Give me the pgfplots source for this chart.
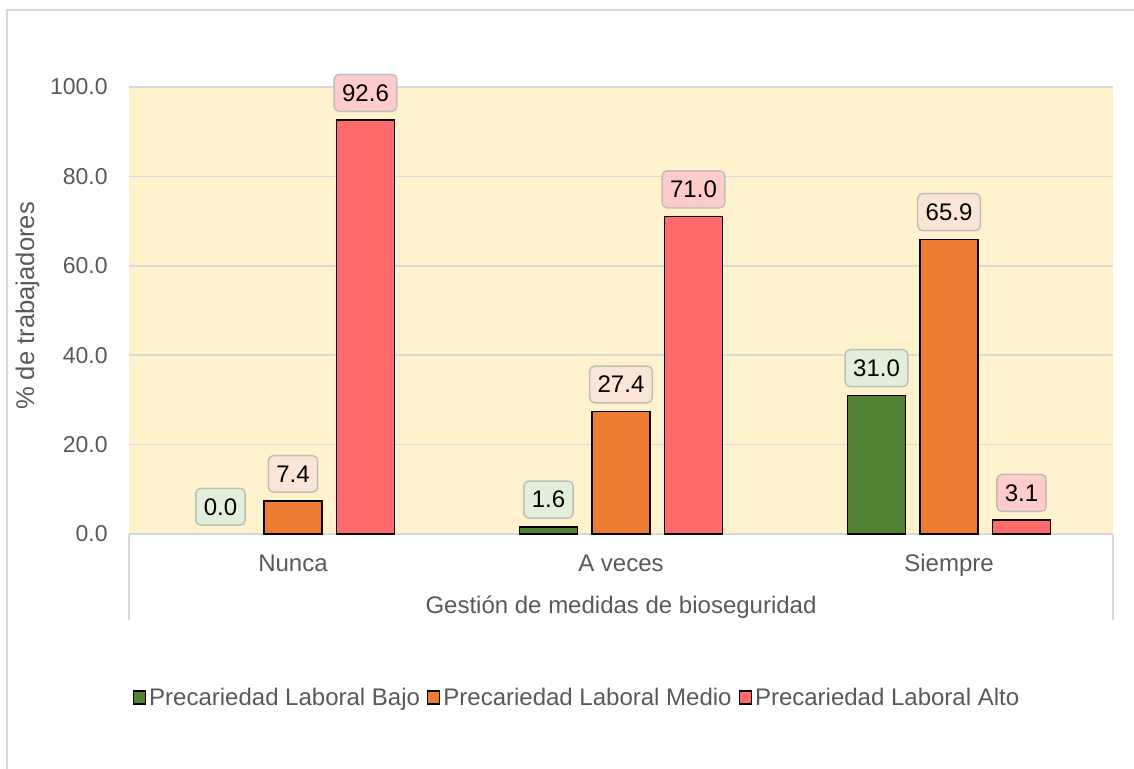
\documentclass[border=0pt]{standalone}
\usepackage{pgfplots}
\pgfplotsset{compat=1.18}
\usepackage{fontspec}
\setmainfont{Liberation Sans}
\definecolor{cGreen}{RGB}{84,130,53}
\definecolor{cOrange}{RGB}{237,125,49}
\definecolor{cRed}{RGB}{255,107,107}
\definecolor{lGreen}{RGB}{226,239,218}
\definecolor{lOrange}{RGB}{251,229,214}
\definecolor{lRed}{RGB}{255,204,204}
\definecolor{bgY}{RGB}{255,242,204}
\definecolor{gridc}{RGB}{217,217,217}
\definecolor{txt}{RGB}{89,89,89}
\definecolor{lblb}{RGB}{191,191,191}
\newcommand{\fs}{\fontsize{11.5}{13.8}\selectfont}
\newcommand{\fm}{\fontsize{12}{14.4}\selectfont}
\pgfplotsset{
  ybar legend/.style={legend image code/.code={\draw[##1,draw=black,line width=0.7pt] (0pt,-3pt) rectangle (6pt,3.5pt);}},
  lbl/.style={every node near coord/.append style={fill=#1, draw=lblb, rounded corners=2.5pt, text=black, font=\fm, inner xsep=4pt, inner ysep=5pt, yshift=4pt, line width=0.75pt}}
}
\begin{document}
\begin{tikzpicture}
\useasboundingbox (0,0) rectangle (567pt,384.5pt);
\begin{axis}[
  at={(64.5pt,117.5pt)}, anchor=south west,
  width=492pt, height=223.5pt, scale only axis,
  xmin=-0.5, xmax=2.5, ymin=0, ymax=100,
  ytick={0,20,40,60,80,100},
  xtick={0,1,2}, xticklabels={Nunca,A veces,Siempre},
  ymajorgrids, grid style={gridc, line width=0.75pt},
  axis line style={draw=none},
  major tick length=0,
  tick label style={text=txt},
  /pgf/number format/assume math mode=true,
  yticklabel style={font=\fs, anchor=east, inner sep=0pt, xshift=-10.5pt, /pgf/number format/fixed, /pgf/number format/fixed zerofill, /pgf/number format/precision=1},
  xticklabel style={font=\fm, anchor=base, inner sep=0pt, yshift=-18.8pt},
  axis background/.style={fill=bgY},
  ybar, bar width=29pt,
  nodes near coords={\pgfmathprintnumber[fixed,fixed zerofill,precision=1]{\pgfplotspointmeta}},
  clip=false,
  legend style={at={(0.4558,-0.3669)}, anchor=center, draw=none, fill=none, legend columns=-1, font=\fm, text=txt, nodes={inner xsep=1.5pt}, /tikz/every even column/.append style={column sep=2pt}},
  legend cell align=left,
]
\addplot[fill=cGreen, draw=black, line width=0.75pt, bar shift=-36.25pt, lbl=lGreen] coordinates {(1,1.6) (2,31.0)};
\addplot[draw=none, fill=none, bar shift=-36.25pt, lbl=lGreen, forget plot] coordinates {(0,0.0)};
\addplot[fill=cOrange, draw=black, line width=0.75pt, bar shift=0pt, lbl=lOrange] coordinates {(0,7.4) (1,27.4) (2,65.9)};
\addplot[fill=cRed, draw=black, line width=0.75pt, bar shift=36.25pt, lbl=lRed] coordinates {(0,92.6) (1,71.0) (2,3.1)};
\legend{Precariedad Laboral Bajo, Precariedad Laboral Medio, Precariedad Laboral Alto}
\draw[gridc, line width=0.75pt] (axis cs:-0.5,0) -- ++(0pt,-43pt);
\draw[gridc, line width=0.75pt] (axis cs:2.5,0) -- ++(0pt,-43pt);
\end{axis}
\node[rotate=90, anchor=base, inner sep=0pt, font=\fontsize{12.8}{15}\selectfont, text=txt] at (17pt,231.5pt) {\% de trabajadores};
\node[anchor=base, inner sep=0pt, font=\fm, text=txt] at (310.5pt,77.7pt) {Gestión de medidas de bioseguridad};
\draw[gridc, line width=0.75pt] (3.5pt,0) -- (3.5pt,379.5pt) -- (567pt,379.5pt);
\end{tikzpicture}
\end{document}
